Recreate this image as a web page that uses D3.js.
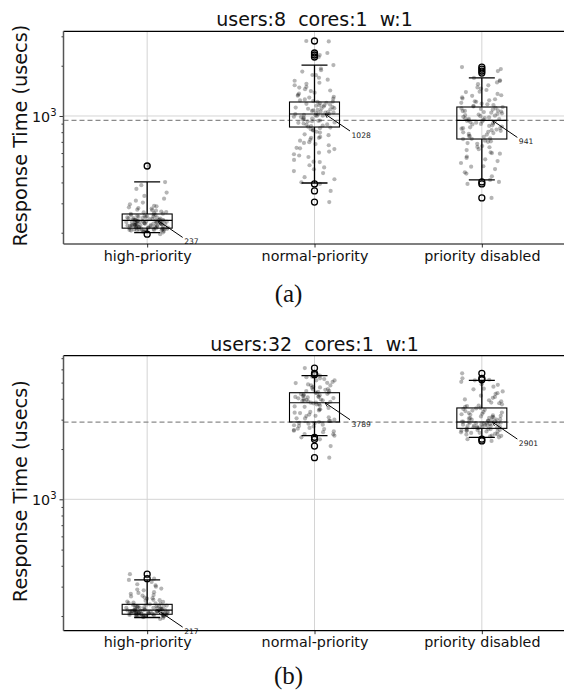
<!DOCTYPE html>
<html>
<head>
<meta charset="utf-8">
<script src="https://cdn.jsdelivr.net/npm/d3@7"></script>
<style>
  body { margin: 0; background: #fff; }
  text { font-family: "DejaVu Sans", sans-serif; }
</style>
</head>
<body>
<svg id="chart" width="564" height="690"></svg>
<script>
const categories = ['high-priority', 'normal-priority', 'priority disabled']
const titles = ['users:8  cores:1  w:1', 'users:32  cores:1  w:1']
const captions = ['(a)', '(b)']
const yLabel = 'Response Time (usecs)'
const majorTicks = [1000]
const minorTicks = [200, 300, 400, 500, 600, 700, 800, 900, 2000, 3000, 4000, 5000, 6000, 7000]

// panel (a): users 8
const aMedian = [237, 1028, 941]
const aQ1 = [213, 859, 728]
const aQ3 = [259, 1213, 1132]
const aWhiskerLo = [200, 397, 414]
const aWhiskerHi = [403, 2019, 1690]
const aOutliers = [
  [502, 196],
  [2812, 2384, 2318, 2255, 392, 356, 305],
  [1963, 1911, 1857, 1807, 403, 392, 323]
]
const aPointsHigh = [196, 201, 203, 204, 205, 206, 207, 208, 208, 209, 210, 211, 212, 212, 213, 214, 215, 216, 216, 217,
  218, 219, 220, 221, 222, 222, 223, 224, 225, 226, 227, 228, 229, 230, 231, 232, 233, 234, 235, 236, 237, 238, 239,
  240, 241, 243, 244, 245, 247, 248, 250, 251, 253, 255, 257, 259, 262, 265, 268, 271, 275, 279, 284, 290, 296, 303,
  311, 320, 332, 348, 366, 385, 402, 502, 206, 209, 211, 214, 215, 217, 219, 220, 221, 223, 224, 226, 227, 229, 231,
  233, 234, 236, 238, 240, 242, 245, 249, 252, 256, 260, 266, 273, 281, 288, 205, 207, 210, 213, 218, 222, 225, 228,
  232, 235, 239, 246]
const aPointsNormal = [305, 356, 392, 401, 418, 430, 455, 468, 492, 507, 533, 546, 568, 580, 603, 612, 634, 645, 668,
  679, 697, 712, 721, 740, 749, 768, 777, 796, 805, 824, 833, 852, 861, 877, 886, 902, 910, 927, 936, 952, 960, 977,
  986, 1001, 1010, 1024, 1031, 1047, 1055, 1072, 1080, 1097, 1105, 1123, 1131, 1152, 1160, 1182, 1191, 1215, 1228,
  1256, 1270, 1304, 1322, 1361, 1380, 1421, 1448, 1494, 1528, 1582, 1626, 1694, 1755, 1846, 1925, 2019, 2255, 2318,
  2384, 2795, 2812, 820, 845, 870, 890, 915, 940, 965, 990, 1005, 1015, 1028, 1040, 1062, 1088, 1114, 1140, 1170,
  1200, 1240, 1290, 1340, 1410, 1480, 1560, 1650, 1760, 1880, 740, 690, 640, 590, 530, 480, 930, 1050, 1110, 1160, 1220]
const aPointsDisabled = [323, 392, 403, 414, 435, 452, 481, 497, 523, 537, 561, 572, 595, 605, 625, 633, 653, 661, 681,
  688, 705, 712, 727, 734, 750, 758, 774, 781, 798, 805, 822, 829, 847, 855, 872, 879, 896, 904, 920, 928, 941, 950,
  965, 973, 989, 997, 1013, 1021, 1038, 1047, 1064, 1073, 1092, 1101, 1120, 1132, 1150, 1162, 1185, 1199, 1225,
  1241, 1273, 1294, 1331, 1356, 1398, 1431, 1483, 1526, 1589, 1636, 1690, 1807, 1857, 1911, 1963, 700, 730, 760, 790,
  815, 840, 865, 890, 912, 935, 958, 980, 1005, 1030, 1055, 1080, 1110, 1140, 1175, 1215, 1260, 1320, 1390, 1460, 1550,
  1620, 650, 600, 550, 500, 460, 845, 960, 1070]

// panel (b): users 32
const bMedian = [217, 3789, 2901]
const bQ1 = [205, 2904, 2660]
const bQ3 = [235, 4348, 3524]
const bWhiskerLo = [196, 2404, 2350]
const bWhiskerHi = [329, 5496, 5160]
const bOutliers = [
  [356, 335],
  [6110, 5683, 5575, 2350, 2286, 2083, 1775],
  [5683, 5303, 5200, 2291, 2238]
]
const bPointsHigh = [192, 195, 197, 198, 199, 200, 201, 202, 203, 203, 204, 205, 206, 206, 207, 208, 208, 209, 210,
  211, 211, 212, 213, 214, 214, 215, 216, 217, 217, 218, 219, 220, 221, 222, 223, 224, 225, 226, 227, 228, 229, 230,
  232, 233, 235, 237, 239, 241, 244, 247, 250, 254, 258, 262, 267, 272, 278, 285, 292, 300, 310, 320, 329, 335, 356,
  199, 200, 201, 202, 203, 204, 205, 206, 207, 208, 209, 210, 211, 212, 213, 214, 215, 216, 218, 220, 222, 224, 226,
  229, 231, 234, 238, 243, 249, 256, 265, 275, 288, 305, 201, 204, 207, 209, 212, 215]
const bPointsNormal = [1775, 2083, 2286, 2350, 2404, 2458, 2523, 2577, 2634, 2676, 2733, 2776, 2834, 2867, 2904, 2952,
  2997, 3053, 3098, 3162, 3217, 3284, 3336, 3405, 3456, 3524, 3577, 3645, 3696, 3754, 3789, 3834, 3866, 3915, 3946,
  3994, 4026, 4074, 4107, 4155, 4186, 4234, 4267, 4315, 4348, 4405, 4455, 4526, 4575, 4657, 4713, 4808, 4872, 4968,
  5042, 5158, 5251, 5389, 5496, 5575, 5683, 6110, 2450, 2550, 2650, 2750, 2850, 2950, 3050, 3150, 3300, 3450, 3600,
  3720, 3800, 3880, 3960, 4040, 4120, 4200, 4280, 4360, 4450, 4550, 4680, 4820, 4980, 5150, 5300, 5420, 2600, 2800,
  3900, 4100]
const bPointsDisabled = [2238, 2291, 2350, 2382, 2408, 2443, 2467, 2498, 2517, 2548, 2567, 2593, 2608, 2633, 2647,
  2660, 2677, 2703, 2717, 2743, 2757, 2783, 2797, 2823, 2837, 2863, 2877, 2901, 2917, 2948, 2967, 2998, 3017, 3053,
  3077, 3113, 3137, 3178, 3207, 3254, 3286, 3334, 3376, 3434, 3476, 3524, 3576, 3645, 3705, 3796, 3865, 3966, 4054,
  4176, 4284, 4427, 4553, 4727, 4893, 5050, 5160, 5200, 5303, 5683, 2400, 2450, 2500, 2550, 2600, 2640, 2680, 2720,
  2760, 2800, 2840, 2880, 2920, 2960, 3000, 3050, 3100, 3160, 3230, 3310, 3400, 3500, 3620, 3760, 3920, 4100, 4320,
  4600, 4850, 2580, 2700, 2780, 2860, 2940]

const panels = [
  {
    id: 'a', title: titles[0], caption: captions[0],
    top: 31.3, bottom: 244, yDomain: [171.2, 3215], captionY: 302,
    median: aMedian, q1: aQ1, q3: aQ3, lo: aWhiskerLo, hi: aWhiskerHi, outliers: aOutliers,
    points: [aPointsHigh, aPointsNormal, aPointsDisabled]
  },
  {
    id: 'b', title: titles[1], caption: captions[1],
    top: 355.7, bottom: 630.7, yDomain: [163.4, 7243], captionY: 684,
    median: bMedian, q1: bQ1, q3: bQ3, lo: bWhiskerLo, hi: bWhiskerHi, outliers: bOutliers,
    points: [bPointsHigh, bPointsNormal, bPointsDisabled]
  }
]

const left = 63.5
const right = 565.5
const boxWidth = 50
const capWidth = 26
const jitter = 21

// deterministic scatter of the strip-plot jitter (horizontal placement only)
function jitterOffset (k, i) {
  const h = Math.sin(k * 12.9898 + i * 78.233 + 1.7) * 43758.5453
  return ((h - Math.floor(h)) - 0.5) * 2 * jitter
}

const svg = d3.select('#chart')

// small open arrow head for the median annotations
svg.append('defs').append('marker')
  .attr('id', 'arrowHead')
  .attr('viewBox', '0 0 10 10')
  .attr('refX', 9).attr('refY', 5)
  .attr('markerWidth', 5).attr('markerHeight', 5)
  .attr('markerUnits', 'userSpaceOnUse')
  .attr('orient', 'auto-start-reverse')
  .append('path')
  .attr('d', 'M1,1 L9,5 L1,9')
  .attr('fill', 'none')
  .attr('stroke', '#000')
  .attr('stroke-width', 1.6)

function drawPanel (p) {
  const x = d3.scaleLinear().domain([0.5, 3.5]).range([left, right])
  const y = d3.scaleLog().domain(p.yDomain).range([p.bottom, p.top])
  const g = svg.append('g').attr('class', 'panel-' + p.id)

  svg.select('defs').append('clipPath')
    .attr('id', 'clip-' + p.id)
    .append('rect')
    .attr('x', left).attr('y', p.top)
    .attr('width', right - left).attr('height', p.bottom - p.top)

  const plot = g.append('g').attr('clip-path', `url(#clip-${p.id})`)

  // grid lines
  plot.selectAll('line.vgrid')
    .data(categories)
    .enter().append('line')
    .attr('class', 'vgrid')
    .attr('x1', (d, i) => x(i + 1)).attr('x2', (d, i) => x(i + 1))
    .attr('y1', p.top).attr('y2', p.bottom)
    .attr('stroke', '#d4d4d4').attr('stroke-width', 1)

  plot.selectAll('line.hgrid')
    .data(majorTicks)
    .enter().append('line')
    .attr('class', 'hgrid')
    .attr('x1', left).attr('x2', right)
    .attr('y1', d => y(d)).attr('y2', d => y(d))
    .attr('stroke', '#d4d4d4').attr('stroke-width', 1)

  // reference line at the "priority disabled" median
  plot.append('line')
    .attr('x1', left).attr('x2', right)
    .attr('y1', y(p.median[2])).attr('y2', y(p.median[2]))
    .attr('stroke', '#8a8a8a').attr('stroke-width', 1.3)
    .attr('stroke-dasharray', '5,3')

  const idx = d3.range(categories.length)

  // whiskers
  const whisk = plot.selectAll('g.whisker')
    .data(idx)
    .enter().append('g')
    .attr('class', 'whisker')
  whisk.append('line')
    .attr('x1', i => x(i + 1)).attr('x2', i => x(i + 1))
    .attr('y1', i => y(p.q3[i])).attr('y2', i => y(p.hi[i]))
  whisk.append('line')
    .attr('x1', i => x(i + 1)).attr('x2', i => x(i + 1))
    .attr('y1', i => y(p.q1[i])).attr('y2', i => y(p.lo[i]))
  whisk.append('line')
    .attr('x1', i => x(i + 1) - capWidth / 2).attr('x2', i => x(i + 1) + capWidth / 2)
    .attr('y1', i => y(p.hi[i])).attr('y2', i => y(p.hi[i]))
  whisk.append('line')
    .attr('x1', i => x(i + 1) - capWidth / 2).attr('x2', i => x(i + 1) + capWidth / 2)
    .attr('y1', i => y(p.lo[i])).attr('y2', i => y(p.lo[i]))
  whisk.selectAll('line').attr('stroke', '#000').attr('stroke-width', 1.3)

  // boxes and medians
  plot.selectAll('rect.box')
    .data(idx)
    .enter().append('rect')
    .attr('class', 'box')
    .attr('x', i => x(i + 1) - boxWidth / 2)
    .attr('width', boxWidth)
    .attr('y', i => y(p.q3[i]))
    .attr('height', i => y(p.q1[i]) - y(p.q3[i]))
    .attr('fill', 'none')
    .attr('stroke', '#000').attr('stroke-width', 1.1)

  plot.selectAll('line.median')
    .data(idx)
    .enter().append('line')
    .attr('class', 'median')
    .attr('x1', i => x(i + 1) - boxWidth / 2).attr('x2', i => x(i + 1) + boxWidth / 2)
    .attr('y1', i => y(p.median[i])).attr('y2', i => y(p.median[i]))
    .attr('stroke', '#000').attr('stroke-width', 1.1)

  // jittered raw points
  idx.forEach(i => {
    plot.append('g').selectAll('circle')
      .data(p.points[i])
      .enter().append('circle')
      .attr('cx', (d, k) => x(i + 1) + jitterOffset(k, i))
      .attr('cy', d => y(d))
      .attr('r', 2.1)
      .attr('fill', '#000')
      .attr('fill-opacity', 0.29)
  })

  // outliers (fliers)
  idx.forEach(i => {
    plot.append('g').selectAll('circle')
      .data(p.outliers[i])
      .enter().append('circle')
      .attr('cx', x(i + 1))
      .attr('cy', d => y(d))
      .attr('r', 3)
      .attr('fill', 'none')
      .attr('stroke', '#000').attr('stroke-width', 1.3)
  })

  // median annotations
  const ann = g.selectAll('g.ann')
    .data(idx)
    .enter().append('g')
    .attr('class', 'ann')
  ann.append('line')
    .attr('x1', i => x(i + 1) + 10.5).attr('y1', i => y(p.median[i]))
    .attr('x2', i => x(i + 1) + 35.5).attr('y2', i => y(p.median[i]) + 17)
    .attr('stroke', '#000').attr('stroke-width', 1)
    .attr('marker-start', 'url(#arrowHead)')
  ann.append('text')
    .attr('x', i => x(i + 1) + 37).attr('y', i => y(p.median[i]) + 24)
    .attr('font-size', '7.6px')
    .attr('fill', '#222')
    .text(i => p.median[i])

  // axes
  const xAxis = g.append('g')
    .attr('transform', `translate(0,${p.bottom})`)
    .call(d3.axisBottom(x).tickValues([1, 2, 3]).tickFormat(d => categories[d - 1]).tickSize(3.5).tickPadding(3))
  xAxis.select('.domain').remove()
  xAxis.selectAll('text').attr('font-size', '14.3px').attr('fill', '#111').style('font-family', '"DejaVu Sans", sans-serif')

  const yAxis = g.append('g')
    .attr('transform', `translate(${left},0)`)
    .call(d3.axisLeft(y).tickValues(majorTicks).tickSize(4).tickPadding(4).tickFormat(() => ''))
  yAxis.select('.domain').remove()
  yAxis.selectAll('.tick text').each(function (d) {
    const t = d3.select(this)
      .attr('font-size', '14.3px').attr('fill', '#111')
      .style('font-family', '"DejaVu Sans", sans-serif')
      .attr('x', -7).attr('dy', '0.38em')
    t.append('tspan').text('10')
    t.append('tspan').text(Math.round(Math.log10(d))).attr('font-size', '10px').attr('dy', '-0.62em')
  })

  const yMinor = g.append('g')
    .attr('transform', `translate(${left},0)`)
    .call(d3.axisLeft(y).tickValues(minorTicks.filter(v => v > p.yDomain[0] && v < p.yDomain[1])).tickSize(2).tickFormat(''))
  yMinor.select('.domain').remove()

  g.selectAll('.tick line').attr('stroke', '#333')

  // spines
  g.append('line')
    .attr('x1', left).attr('x2', right).attr('y1', p.top).attr('y2', p.top)
    .attr('stroke', '#000').attr('stroke-width', 1.2)
  g.append('line')
    .attr('x1', left).attr('x2', right).attr('y1', p.bottom).attr('y2', p.bottom)
    .attr('stroke', '#000').attr('stroke-width', 1.2)
  g.append('line')
    .attr('x1', left).attr('x2', left).attr('y1', p.top).attr('y2', p.bottom)
    .attr('stroke', '#555').attr('stroke-width', 1.5)

  // title, y label, caption
  g.append('text')
    .attr('x', (left + right) / 2).attr('y', p.top - 5)
    .attr('text-anchor', 'middle')
    .attr('font-size', '19px')
    .attr('fill', '#111')
    .style('white-space', 'pre')
    .text(p.title)

  g.append('text')
    .attr('transform', `translate(26.5,${(p.top + p.bottom) / 2 - 2}) rotate(-90)`)
    .attr('text-anchor', 'middle')
    .attr('font-size', '19.3px')
    .attr('fill', '#111')
    .text(yLabel)

  g.append('text')
    .attr('x', 288.5).attr('y', p.captionY)
    .attr('text-anchor', 'middle')
    .style('font-family', '"Liberation Serif", "Times New Roman", serif')
    .attr('font-size', '25px')
    .attr('fill', '#111')
    .text(p.caption)
}

panels.forEach(drawPanel)
</script>
</body>
</html>
